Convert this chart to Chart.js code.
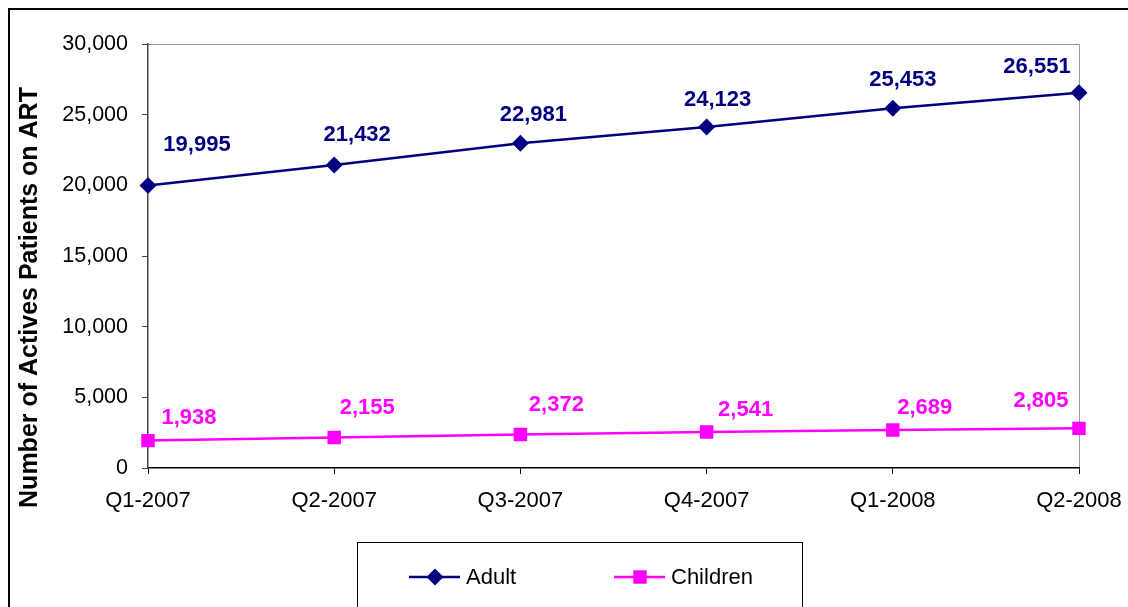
<!DOCTYPE html>
<html>
<head>
<meta charset="utf-8">
<script src="https://cdn.jsdelivr.net/npm/chart.js@4/dist/chart.umd.min.js"></script>
<style>
  html, body { margin: 0; padding: 0; background: #fff; }
  #chart { display: block; }
</style>
</head>
<body>
<canvas id="chart" width="1128" height="607"></canvas>
<script>
const quarters = ['Q1-2007', 'Q2-2007', 'Q3-2007', 'Q4-2007', 'Q1-2008', 'Q2-2008']
const adult = [19995, 21432, 22981, 24123, 25453, 26551]
const children = [1938, 2155, 2372, 2541, 2689, 2805]
const yTicks = [0, 5000, 10000, 15000, 20000, 25000, 30000]

// where each value label sits relative to its point (like Excel's dragged labels)
const adultLabelShift = [[49, -40], [23, -30], [13, -28], [11, -27], [10, -28], [-42, -26]]
const childLabelShift = [[41, -23], [33, -30], [36, -30], [39, -22], [32, -22], [-38, -27]]

const FONT = "'Liberation Sans', Arial, sans-serif"
const fmt = v => v.toLocaleString('en-US')

const framePlugin = {
    id: 'frame',
    beforeDraw(chart) {
        const ctx = chart.ctx
        ctx.save()
        ctx.fillStyle = '#fff'
        ctx.fillRect(0, 0, chart.width, chart.height)
        ctx.strokeStyle = '#000'
        ctx.lineWidth = 2
        ctx.strokeRect(9, 9, chart.width + 20, chart.height + 20)
        // plot area border (grey, top and right)
        const a = chart.chartArea
        ctx.strokeStyle = '#999'
        ctx.lineWidth = 1
        ctx.beginPath()
        ctx.moveTo(a.left, a.top + 0.5)
        ctx.lineTo(a.right + 0.5, a.top + 0.5)
        ctx.lineTo(a.right + 0.5, a.bottom)
        ctx.stroke()
        // y axis title
        ctx.translate(37, 297.5)
        ctx.rotate(-Math.PI / 2)
        ctx.fillStyle = '#000'
        ctx.font = 'bold 25px ' + FONT
        ctx.textAlign = 'center'
        ctx.textBaseline = 'alphabetic'
        ctx.fillText('Number of Actives Patients on ART', 0, 0)
        ctx.restore()
    }
}

const valueLabels = {
    id: 'valueLabels',
    afterDatasetsDraw(chart) {
        const ctx = chart.ctx
        const shifts = [adultLabelShift, childLabelShift]
        ctx.save()
        ctx.font = 'bold 22px ' + FONT
        ctx.textAlign = 'center'
        ctx.textBaseline = 'middle'
        chart.data.datasets.forEach((ds, di) => {
            ctx.fillStyle = ds.borderColor
            chart.getDatasetMeta(di).data.forEach((pt, i) => {
                const s = shifts[di][i]
                ctx.fillText(fmt(ds.data[i]), pt.x + s[0], pt.y + s[1])
            })
        })
        ctx.restore()
    }
}

const boxLegend = {
    id: 'boxLegend',
    afterDraw(chart) {
        const ctx = chart.ctx
        const itemX = [409, 614]
        const y = 577
        ctx.save()
        ctx.strokeStyle = '#000'
        ctx.lineWidth = 1
        ctx.strokeRect(357.5, 542.5, 445, 100)
        ctx.font = '22px ' + FONT
        ctx.textBaseline = 'middle'
        ctx.textAlign = 'left'
        chart.data.datasets.forEach((ds, di) => {
            const x = itemX[di]
            ctx.strokeStyle = ds.borderColor
            ctx.lineWidth = ds.borderWidth
            ctx.beginPath()
            ctx.moveTo(x, y)
            ctx.lineTo(x + 51, y)
            ctx.stroke()
            ctx.fillStyle = ds.backgroundColor
            Chart.helpers.drawPoint(ctx, {
                pointStyle: ds.pointStyle,
                radius: ds.pointRadius,
                borderWidth: 0,
                rotation: 0
            }, x + 26, y)
            ctx.fillStyle = '#000'
            ctx.fillText(ds.label, x + 57, y + 1)
        })
        ctx.restore()
    }
}

const dataLine = {
    labels: quarters,
    datasets: [
        {
            label: 'Adult',
            data: adult,
            borderColor: '#000080',
            backgroundColor: '#000080',
            borderWidth: 2.5,
            pointStyle: 'rectRot',
            pointRadius: 8.5,
            pointBorderWidth: 0,
            tension: 0
        },
        {
            label: 'Children',
            data: children,
            borderColor: '#ff00ff',
            backgroundColor: '#ff00ff',
            borderWidth: 2.5,
            pointStyle: 'rect',
            pointRadius: 9.5,
            pointBorderWidth: 0,
            tension: 0
        }
    ]
}

const configLine = {
    type: 'line',
    data: dataLine,
    options: {
        responsive: false,
        animation: false,
        layout: {
            padding: { top: 44, right: 49, bottom: 0, left: 0 }
        },
        plugins: {
            legend: { display: false },
            tooltip: { enabled: false }
        },
        scales: {
            x: {
                offset: false,
                grid: {
                    drawOnChartArea: false,
                    tickLength: 6,
                    color: '#000'
                },
                border: { color: '#000', width: 1.5 },
                ticks: {
                    color: '#000',
                    font: { family: FONT, size: 22 },
                    padding: 14,
                    maxRotation: 0,
                    autoSkip: false
                },
                afterFit(scale) {
                    scale.height = 139
                    scale.paddingLeft = 0
                    scale.paddingRight = 0
                }
            },
            y: {
                min: 0,
                max: 30000,
                afterBuildTicks(scale) {
                    scale.ticks = yTicks.map(v => ({ value: v }))
                },
                grid: {
                    drawOnChartArea: false,
                    tickLength: 6,
                    color: '#444'
                },
                border: { color: '#444', width: 1.5 },
                ticks: {
                    color: '#000',
                    font: { family: FONT, size: 21.5 },
                    padding: 14,
                    callback: v => fmt(v)
                },
                afterFit(scale) {
                    scale.width = 148
                }
            }
        }
    },
    plugins: [framePlugin, valueLabels, boxLegend]
}

let chartLine = new Chart(document.getElementById('chart'), configLine)
</script>
</body>
</html>
